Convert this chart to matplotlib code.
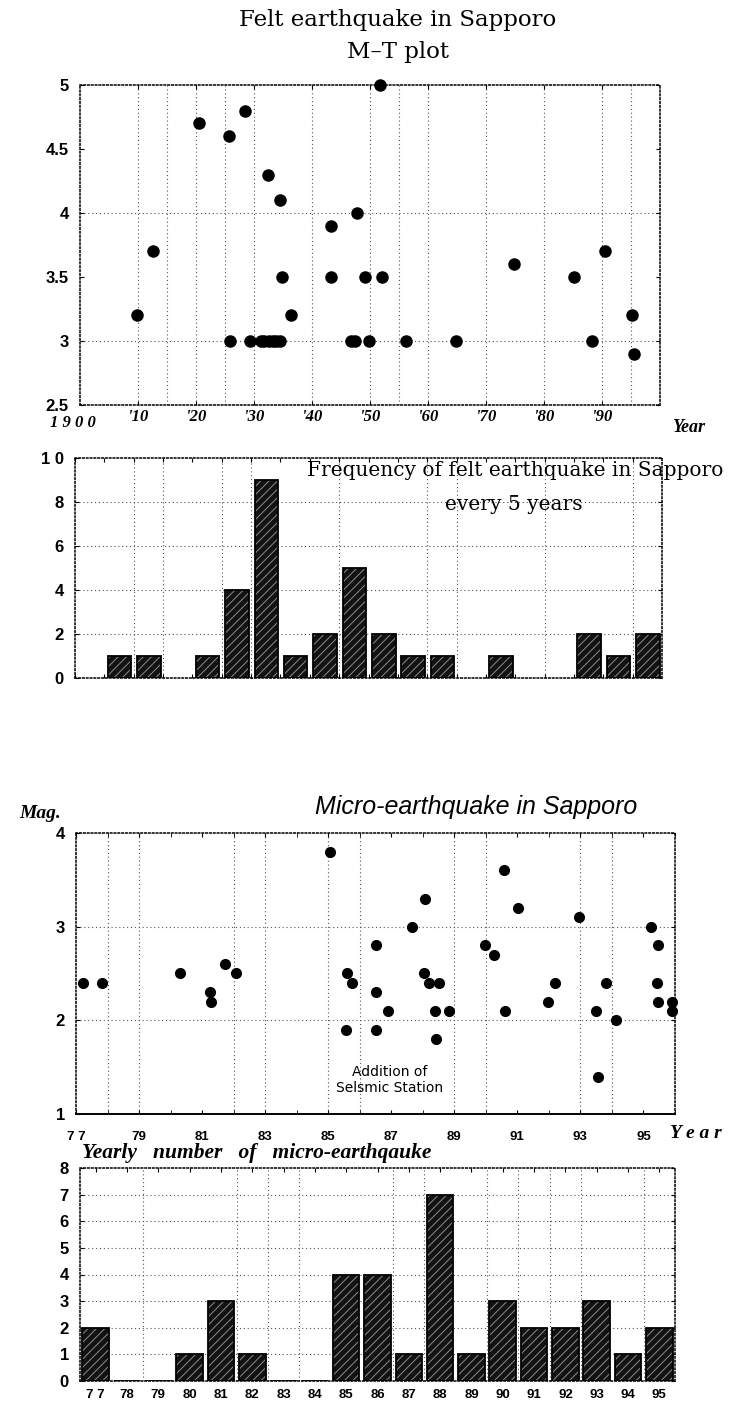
import matplotlib
matplotlib.use("Agg")
import matplotlib.pyplot as plt
import numpy as np

# ---- data ----
# felt earthquakes, M-T plot
felt_year = [1909.8, 1912.6, 1920.5, 1925.7, 1925.9, 1928.4, 1929.3,
             1931.2, 1931.8, 1932.4, 1932.5, 1933.2, 1933.8, 1934.4, 1934.5, 1934.9,
             1936.3, 1943.3, 1943.3, 1946.7, 1947.4, 1947.8, 1949.2, 1949.9,
             1951.8, 1952.0, 1956.2, 1964.8, 1974.9, 1985.1, 1988.2, 1990.5,
             1995.2, 1995.5]
felt_mag = [3.2, 3.7, 4.7, 4.6, 3.0, 4.8, 3.0,
            3.0, 3.0, 4.3, 3.0, 3.0, 3.0, 4.1, 3.0, 3.5,
            3.2, 3.9, 3.5, 3.0, 3.0, 4.0, 3.5, 3.0,
            5.0, 3.5, 3.0, 3.0, 3.6, 3.5, 3.0, 3.7,
            3.2, 2.9]

# frequency every 5 years, bins starting 1900
felt_bin_start = list(range(1900, 2000, 5))
felt_counts = [0, 1, 1, 0, 1, 4, 9, 1, 2, 5, 2, 1, 1, 0, 1, 0, 0, 2, 1, 2]

# micro-earthquakes
micro_year = [1977.22, 1977.83, 1980.30, 1981.24, 1981.27, 1981.73, 1982.07,
              1985.06, 1985.59, 1985.56, 1985.76, 1986.51, 1986.51, 1986.51, 1986.91,
              1987.65, 1988.08, 1988.04, 1988.20, 1988.38, 1988.51, 1988.41, 1988.84,
              1989.98, 1990.27, 1990.57, 1990.60, 1991.01, 1991.96, 1992.19, 1992.97,
              1993.50, 1993.55, 1993.80, 1994.13, 1995.24, 1995.47, 1995.43, 1995.46,
              1995.89, 1995.89]
micro_mag = [2.4, 2.4, 2.5, 2.3, 2.2, 2.6, 2.5,
             3.8, 2.5, 1.9, 2.4, 2.8, 2.3, 1.9, 2.1,
             3.0, 3.3, 2.5, 2.4, 2.1, 2.4, 1.8, 2.1,
             2.8, 2.7, 3.6, 2.1, 3.2, 2.2, 2.4, 3.1,
             2.1, 1.4, 2.4, 2.0, 3.0, 2.8, 2.4, 2.2,
             2.2, 2.1]

# yearly number of micro-earthquakes
micro_bar_year = list(range(77, 96))
micro_counts = [2, 0, 0, 1, 3, 1, 0, 0, 4, 4, 1, 7, 1, 3, 2, 2, 3, 1, 2]
micro_bar_labels = ["7 7"] + [str(y) for y in range(78, 96)]

felt_tick_years = list(range(1910, 2000, 10))
felt_tick_labels = ["'%02d" % (y - 1900) for y in felt_tick_years]
micro_tick_years = list(range(1977, 1996, 2))
micro_tick_labels = ["7 7"] + [str(y - 1900) for y in micro_tick_years[1:]]

# ---- style ----
W, H = 734, 1403
plt.rcParams["hatch.linewidth"] = 0.7
SANS = "Liberation Sans"
SERIF = "Liberation Serif"
DOTS = (0, (1, 1.5))
GRID = dict(color="#555555", linestyle=(0, (1, 2.5)), linewidth=0.8, zorder=0)

fig = plt.figure(figsize=(W / 100, H / 100), dpi=100)


def add_ax(l, t, r, b):
    return fig.add_axes([l / W, 1 - b / H, (r - l) / W, (b - t) / H])


def ftext(x, y, s, **kw):
    kw.setdefault("ha", "center")
    kw.setdefault("va", "center")
    fig.text(x / W, 1 - y / H, s, **kw)


def style_box(ax, pad_x=4, pad_y=8):
    for s in ax.spines.values():
        s.set_linestyle(DOTS)
        s.set_linewidth(1.1)
        s.set_color("black")
    ax.tick_params(direction="in", length=3, width=0.8, top=True, right=True)
    ax.tick_params(axis="x", pad=pad_x)
    ax.tick_params(axis="y", pad=pad_y)
    for lbl in ax.get_yticklabels():
        lbl.set_fontfamily(SANS)
        lbl.set_fontweight("bold")
        lbl.set_fontsize(12)


def draw_bars(ax, x, h, width, keep_zero):
    x = np.asarray(x, dtype=float)
    h = np.asarray(h, dtype=float)
    ax.bar(x, h, width, color="#121212", edgecolor="#8c8c8c", hatch="////",
           linewidth=0, zorder=2)
    m = np.ones_like(h, dtype=bool) if keep_zero else h > 0
    ax.bar(x[m], h[m], width, fill=False, edgecolor="black", linewidth=1.3, zorder=3)


# ---- titles ----
ftext(398, 20, "Felt earthquake in Sapporo", family="DejaVu Serif", fontsize=16.5)
ftext(398, 52, "M\u2013T plot", family="DejaVu Serif", fontsize=16.5)

# ---- felt M-T plot ----
ax1 = add_ax(80, 85, 660, 405)
for gx in [1910, 1915, 1920, 1925, 1930, 1940, 1950, 1955, 1960, 1970, 1980, 1990, 1995]:
    ax1.axvline(gx, **GRID)
for gy in [3, 4]:
    ax1.axhline(gy, **GRID)
ax1.plot(felt_year, felt_mag, "o", color="black", ms=8, zorder=4, clip_on=False)
ax1.set_xlim(1900, 2000)
ax1.set_ylim(2.5, 5)
ax1.set_yticks([2.5, 3, 3.5, 4, 4.5, 5])
ax1.set_yticklabels(["2.5", "3", "3.5", "4", "4.5", "5"])
ax1.set_xticks(felt_tick_years)
ax1.set_xticklabels(felt_tick_labels, family=SERIF, fontweight="bold",
                    fontstyle="italic", fontsize=12)
style_box(ax1, pad_x=3)
ftext(73, 423, "1 9 0 0", family=SERIF, fontweight="bold", fontstyle="italic", fontsize=12)
ftext(689, 428, "Year", family=SERIF, fontweight="bold", fontstyle="italic", fontsize=13)

# ---- felt frequency every 5 years ----
ax2 = add_ax(75, 458, 662, 678)
for gx in [1910, 1915, 1925, 1930, 1945, 1960, 1965, 1980, 1995]:
    ax2.axvline(gx, **GRID)
for gy in [2, 4, 6, 8]:
    ax2.axhline(gy, **GRID)
draw_bars(ax2, np.array(felt_bin_start) + 2.6, felt_counts, 4.0, keep_zero=False)
ax2.set_xlim(1900, 2000)
ax2.set_ylim(0, 10)
ax2.set_yticks([0, 2, 4, 6, 8, 10])
ax2.set_yticklabels(["0", "2", "4", "6", "8", "1 0"])
ax2.set_xticks(felt_bin_start)
ax2.set_xticklabels([])
style_box(ax2)
ftext(515, 470, "Frequency of felt earthquake in Sapporo", family="DejaVu Serif", fontsize=14.5)
ftext(514, 505, "every 5 years", family="DejaVu Serif", fontsize=14.5)

# ---- micro-earthquake M-T plot ----
ftext(476, 807, "Micro-earthquake in Sapporo", family=SANS, fontstyle="italic", fontsize=18)
ftext(40, 813, "Mag.", family=SERIF, fontweight="bold", fontstyle="italic", fontsize=14)
ax3 = add_ax(76, 833, 675, 1114)
for gx in [1978, 1979, 1982, 1983, 1985, 1986, 1989, 1990, 1993, 1994]:
    ax3.axvline(gx, **GRID)
for gy in [2, 3]:
    ax3.axhline(gy, **GRID)
ax3.plot(micro_year, micro_mag, "o", color="black", ms=7, zorder=4, clip_on=False)
ax3.set_xlim(1977, 1996)
ax3.set_ylim(1, 4)
ax3.set_yticks([1, 2, 3, 4])
ax3.set_xticks(micro_tick_years)
ax3.set_xticks(range(1977, 1997), minor=True)
ax3.set_xticklabels(micro_tick_labels, family=SANS, fontweight="bold", fontsize=9.5)
style_box(ax3, pad_x=12)
ax3.tick_params(which="minor", direction="in", length=3, top=True)
ax3.spines["bottom"].set_linestyle("-")
ax3.spines["bottom"].set_linewidth(1.4)
ax3.text(1986.95, 1.36, "Addition of\nSelsmic Station", ha="center", va="center",
         family="DejaVu Sans", fontsize=10, linespacing=1.15, zorder=5)
ftext(696, 1133, "Y e a r", family=SERIF, fontweight="bold", fontstyle="italic", fontsize=14)
ftext(82, 1153, "Yearly   number   of   micro-earthqauke", ha="left", family=SERIF,
      fontweight="bold", fontstyle="italic", fontsize=15.5)

# ---- yearly number of micro-earthquakes ----
ax4 = add_ax(80, 1168, 675, 1381)
for gx in [78.5, 81.5, 82.5, 83.5, 86.5, 87.5, 89.5, 90.5, 91.5, 92.5, 94.5]:
    ax4.axvline(gx, **GRID)
for gy in range(1, 8):
    ax4.axhline(gy, **GRID)
draw_bars(ax4, micro_bar_year, micro_counts, 0.85, keep_zero=True)
ax4.set_xlim(76.5, 95.5)
ax4.set_ylim(0, 8)
ax4.set_yticks(range(0, 9))
ax4.set_xticks(micro_bar_year)
ax4.set_xticklabels(micro_bar_labels, family=SANS, fontweight="bold", fontsize=9.5)
style_box(ax4, pad_x=6)
ax4.tick_params(axis="x", bottom=False)

fig.savefig("out.png", dpi=100)
